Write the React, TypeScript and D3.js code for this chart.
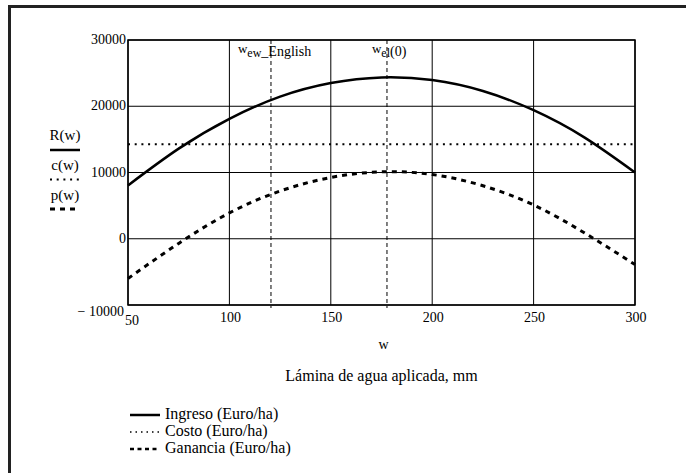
import React from 'react';
import * as d3 from 'd3';

// values
const wValues = [50, 75, 100, 125, 150, 175, 200, 225, 250, 275, 300];
const ingreso = [8050, 13600, 18100, 21450, 23500, 24350, 23950, 22300, 19400, 15300, 10000];
const costo = [14250, 14250, 14250, 14250, 14250, 14250, 14250, 14250, 14250, 14250, 14250];
const ganancia = [-6000, -700, 3900, 7200, 9250, 10100, 9700, 8000, 5100, 900, -3900];
const xTicks = [50, 100, 150, 200, 250, 300];
const yTicks = [-10000, 0, 10000, 20000, 30000];
const markers = [
  { w: 120.5, sub: 'ew', rest: '_English' },
  { w: 177.7, sub: 'el', rest: '(0)' },
];
const legendItems = ['Ingreso (Euro/ha)', 'Costo (Euro/ha)', 'Ganancia (Euro/ha)'];
const sideLabels = ['R(w)', 'c(w)', 'p(w)'];

const styles = [
  { width: 2.5, dash: undefined as string | undefined },
  { width: 2, dash: '2,4.7' },
  { width: 3, dash: '5,5' },
];

export default function App() {
  const width = 686;
  const height = 473;
  const plot = { left: 128, right: 635, top: 40, bottom: 305 };

  const x = d3.scaleLinear().domain([50, 300]).range([plot.left, plot.right]);
  const y = d3.scaleLinear().domain([-10000, 30000]).range([plot.bottom, plot.top]);

  const line = d3
    .line<number>()
    .x((_, i) => x(wValues[i]))
    .y((d) => y(d))
    .curve(d3.curveNatural);

  const series = [ingreso, costo, ganancia];
  const midX = (plot.left + plot.right) / 2;

  return (
    <svg
      width={width}
      height={height}
      style={{
        position: 'absolute',
        left: 0,
        top: 0,
        background: '#fff',
        fontFamily: "'Liberation Serif', 'DejaVu Serif', serif",
      }}
    >
      <rect x={9.5} y={6.5} width={720} height={520} fill="none" stroke="#222" strokeWidth={3} />

      {/* grid */}
      {xTicks.map((t) => (
        <line key={'gx' + t} x1={x(t)} x2={x(t)} y1={plot.top} y2={plot.bottom} stroke="#000" strokeWidth={1} />
      ))}
      {yTicks.map((t) => (
        <line key={'gy' + t} x1={plot.left} x2={plot.right} y1={y(t)} y2={y(t)} stroke="#000" strokeWidth={1} />
      ))}

      {/* markers */}
      {markers.map((m) => (
        <line
          key={'m' + m.w}
          x1={x(m.w)}
          x2={x(m.w)}
          y1={plot.top}
          y2={plot.bottom + 3}
          stroke="#000"
          strokeWidth={1}
          strokeDasharray="4,3"
        />
      ))}
      {markers.map((m, i) => (
        <text key={'ml' + m.w} x={x(m.w) - (i === 0 ? 33 : 15)} y={56} fontSize={14} fill="#000">
          <tspan fontSize={13} dy={-3}>w</tspan>
          <tspan fontSize={12} dy={4}>{m.sub}</tspan>
          <tspan fontSize={14} dy={-1}>{m.rest}</tspan>
        </text>
      ))}

      {/* curves */}
      {series.map((s, i) => (
        <path
          key={'s' + i}
          d={line(s) ?? ''}
          fill="none"
          stroke="#000"
          strokeWidth={styles[i].width}
          strokeDasharray={styles[i].dash}
        />
      ))}

      <rect
        x={plot.left}
        y={plot.top}
        width={plot.right - plot.left}
        height={plot.bottom - plot.top}
        fill="none"
        stroke="#000"
        strokeWidth={1.5}
      />

      {/* y tick labels */}
      {yTicks.map((t) => (
        <text
          key={'yl' + t}
          x={t < 0 ? 124 : 126}
          y={y(t) + (t === -10000 ? 8 : 1)}
          textAnchor="end"
          dominantBaseline="middle"
          fontSize={14}
          fill="#000"
        >
          {t < 0 ? '\u2212 ' + Math.abs(t) : t}
        </text>
      ))}

      {/* x tick labels */}
      {xTicks.map((t) => (
        <text
          key={'xl' + t}
          x={x(t) + (t === 50 ? 4 : 1)}
          y={t === 50 ? 322 : 319}
          textAnchor="middle"
          dominantBaseline="middle"
          fontSize={14}
          fill="#000"
        >
          {t}
        </text>
      ))}

      <text x={midX + 2} y={346} textAnchor="middle" dominantBaseline="middle" fontSize={14} fill="#000">
        w
      </text>
      <text x={midX} y={377} textAnchor="middle" dominantBaseline="middle" fontSize={16} fill="#000">
        Lámina de agua aplicada, mm
      </text>

      {/* side labels */}
      {sideLabels.map((lab, i) => (
        <g key={lab}>
          <text x={65} y={137 + i * 30} textAnchor="middle" dominantBaseline="middle" fontSize={15} fill="#000">
            {lab}
          </text>
          <line
            x1={50}
            x2={80}
            y1={150 + i * 29.5}
            y2={150 + i * 29.5}
            stroke="#000"
            strokeWidth={styles[i].width}
            strokeDasharray={styles[i].dash}
          />
        </g>
      ))}

      {/* legend */}
      {legendItems.map((lab, i) => (
        <g key={lab}>
          <line
            x1={130}
            x2={160}
            y1={415 + i * 17}
            y2={415 + i * 17}
            stroke="#000"
            strokeWidth={i === 1 ? 1.5 : 2.5}
            strokeDasharray={i === 0 ? undefined : i === 1 ? '1.5,4' : '4,3.5'}
          />
          <text x={165} y={415 + i * 17} dominantBaseline="middle" fontSize={16} fill="#000">
            {lab}
          </text>
        </g>
      ))}
    </svg>
  );
}
